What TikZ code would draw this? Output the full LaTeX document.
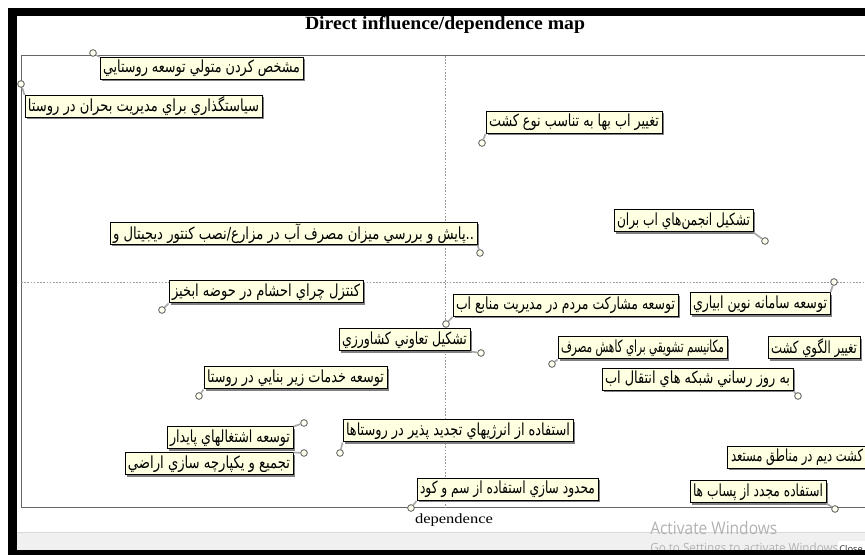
\documentclass[tikz,border=0pt]{standalone}
\usepackage{fontspec}
\setmainfont{Liberation Serif}
\newfontfamily\arabicfont[Script=Arabic]{DejaVu Sans}
\newfontfamily\winfont{Open Sans}
\TeXXeTstate=1
\usetikzlibrary{shadows}
\definecolor{tipfill}{HTML}{FFFFE1}
\definecolor{bandgray}{HTML}{F0F0F0}
\newsavebox\fitbox
\newcommand\fitto[2]{\sbox\fitbox{#2}\pgfmathsetmacro\fitratio{(#1)/\wd\fitbox}\scalebox{\fitratio}[1]{\usebox\fitbox}}
\newcommand\artext[1]{\arabicfont\fontsize{12.5}{14}\selectfont\beginR #1\endR}
\tikzset{
  lab/.style={draw=black, line width=0.75pt, fill=tipfill, inner sep=0pt,
    minimum height=16.5pt, minimum width=#1*0.75pt,
    drop shadow={shadow xshift=1.5pt, shadow yshift=-1.5pt, fill=black!50, opacity=1}},
  dotmark/.style={circle, draw=black!65, fill=tipfill!50!white, line width=0.6pt,
    minimum size=5pt, inner sep=0pt},
  leader/.style={draw=black!35, line width=1.2pt},
  guide/.style={draw=black!40, line width=0.5pt, dash pattern=on 1.2pt off 1.2pt},
}
\begin{document}
\begin{tikzpicture}[x=0.75pt, y=-0.75pt]
\useasboundingbox (0,0) rectangle (865,555);
\clip (0,0) rectangle (865,555);
% window
\fill[white] (0,0) rectangle (865,555);
\fill[bandgray] (17,532) rectangle (865,550);
\draw[black!15, line width=0.6pt] (17,532) -- (865,532);
% plot frame and guides
\draw[black!60, line width=0.75pt] (21,56) rectangle (900,508);
\draw[guide] (445,56) -- (445,508);
\draw[guide] (21,282) -- (865,282);
% title and axis label
\node[anchor=center] (title) at (445,25) {\fitto{280*0.75}{\bfseries\fontsize{14}{16}\selectfont Direct influence/dependence map}};
\node[anchor=center] (dep) at (454,520) {\fitto{78*0.75}{\fontsize{10.5}{12}\selectfont dependence}};
% labels
\node[lab=203] (n1) at (201.5,68.5) {\fitto{197*0.75}{\artext{مشخص کردن متولي توسعه روستايي}}};
\node[lab=237] (n2) at (143.5,106.5) {\fitto{231*0.75}{\artext{سياستگذاري براي مديريت بحران در روستا}}};
\node[lab=176] (n3) at (574,122.5) {\fitto{170*0.75}{\artext{تغيير اب بها به تناسب نوع کشت}}};
\node[lab=367] (n4) at (293.5,233.5) {\fitto{361*0.75}{\arabicfont\fontsize{12.5}{14}\selectfont\beginR پايش و بررسي ميزان مصرف آب در مزارع/نصب کنتور ديجيتال و\endR..}};
\node[lab=139] (n5) at (683.5,221) {\fitto{133*0.75}{\artext{تشکيل انجمن‌هاي اب بران}}};
\node[lab=194] (n6) at (266,292) {\fitto{188*0.75}{\artext{کنتزل چراي احشام در حوضه ابخيز}}};
\node[lab=225] (n7) at (565.5,305.5) {\fitto{219*0.75}{\artext{توسعه مشارکت مردم در مديريت منابع اب}}};
\node[lab=140] (n8) at (760,304) {\fitto{134*0.75}{\artext{توسعه سامانه نوين ابياري}}};
\node[lab=131] (n9) at (404.5,340) {\fitto{125*0.75}{\artext{تشکيل تعاوني کشاورزي}}};
\node[lab=169] (n10) at (642.5,348) {\fitto{163*0.75}{\artext{مکانيسم تشويقي براي کاهش مصرف}}};
\node[lab=92] (n11) at (814,348) {\fitto{86*0.75}{\artext{تغيير الگوي کشت}}};
\node[lab=191] (n12) at (697.5,379.5) {\fitto{185*0.75}{\artext{به روز رساني شبکه هاي انتقال اب}}};
\node[lab=183] (n13) at (295.5,378) {\fitto{177*0.75}{\artext{توسعه خدمات زير بنايي در روستا}}};
\node[lab=126] (n14) at (230,438) {\fitto{120*0.75}{\artext{توسعه اشتغالهاي پايدار}}};
\node[lab=168] (n15) at (209,464) {\fitto{162*0.75}{\artext{تجميع و يکپارچه سازي اراضي}}};
\node[lab=230] (n16) at (458,431) {\fitto{224*0.75}{\artext{استفاده از انرژيهاي تجديد پذير در روستاها}}};
\node[lab=181] (n17) at (507.5,489.5) {\fitto{175*0.75}{\artext{محدود سازي استفاده از سم و کود}}};
\node[lab=140] (n18) at (797,457.5) {\fitto{132*0.75}{\artext{کشت ديم در مناطق مستعد}}};
\node[lab=136] (n19) at (758,492) {\fitto{130*0.75}{\artext{استفاده مجدد از پساب ها}}};
% markers
\node[dotmark] (m1) at (93,53) {};
\node[dotmark] (m2) at (21,84) {};
\node[dotmark] (m3) at (482,143) {};
\node[dotmark] (m4) at (480,253) {};
\node[dotmark] (m5) at (765,241) {};
\node[dotmark] (m6) at (162,310) {};
\node[dotmark] (m7) at (446,324) {};
\node[dotmark] (m8) at (834,282) {};
\node[dotmark] (m9) at (481,353) {};
\node[dotmark] (m10) at (552,364) {};
\node[dotmark] (m12) at (798,396) {};
\node[dotmark] (m13) at (199,396) {};
\node[dotmark] (m14) at (304,423) {};
\node[dotmark] (m15) at (304,453) {};
\node[dotmark] (m16) at (340,453) {};
\node[dotmark] (m17) at (411,508) {};
\node[dotmark] (m19) at (835,509) {};
% leaders
\draw[leader] (m1) -- (n1.north west);
\draw[leader] (m2) -- (n2.north west);
\draw[leader] (m3) -- (n3.south west);
\draw[leader] (m4) -- (n4.south east);
\draw[leader] (m5) -- (n5.south east);
\draw[leader] (m6) -- (n6.south west);
\draw[leader] (m7) -- (n7.south west);
\draw[leader] (m8) -- (n8.north east);
\draw[leader] (m9) -- (n9.south east);
\draw[leader] (m10) -- (n10.south west);
\draw[leader] (m12) -- (n12.south east);
\draw[leader] (m13) -- (n13.south west);
\draw[leader] (m14) -- (n14.north east);
\draw[leader] (m15) -- (n15.north east);
\draw[leader] (m16) -- (n16.south west);
\draw[leader] (m17) -- (n17.south west);
\draw[leader] (m19) -- (n19.south east);
% watermark
\node[anchor=base west, inner sep=0pt, text=black!30] (wm1) at (650,535) {\fitto{127*0.75}{\winfont\fontsize{13}{15}\selectfont Activate Windows}};
\node[anchor=base west, inner sep=0pt, text=black!30] (wm2) at (650,553) {\fitto{188*0.75}{\winfont\fontsize{9.5}{11}\selectfont Go to Settings to activate Windows}};
\fill[white] (838,541) rectangle (865,550);
\node[anchor=base west, inner sep=0pt, text=black!80] (cls) at (839,553) {\winfont\fontsize{7}{8}\selectfont Close};
% black window frame
\fill[black] (8,8) rectangle (865,16);
\fill[black] (8,8) rectangle (17,555);
\fill[black] (8,550) rectangle (865,555);
\end{tikzpicture}
\end{document}
